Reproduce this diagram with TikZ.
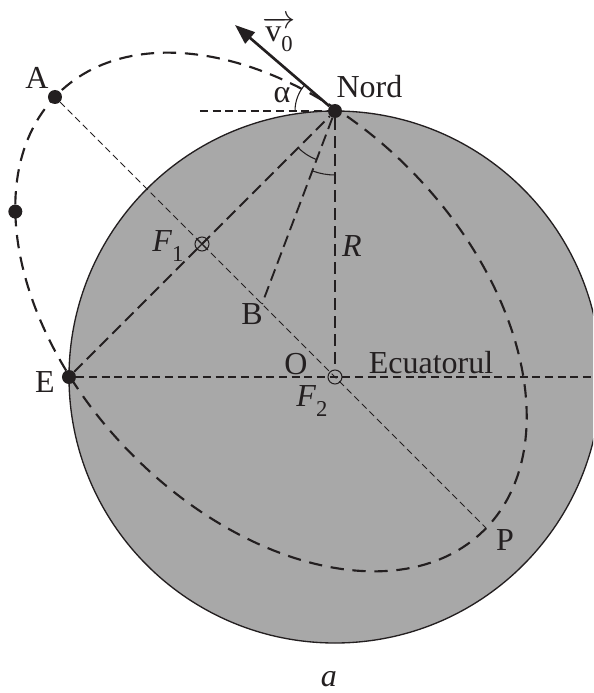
\documentclass[tikz,border=0pt]{standalone}
\usepackage{fontspec}
\setmainfont{Liberation Serif}
\usetikzlibrary{arrows.meta,positioning}
\definecolor{ink}{HTML}{231F20}
\definecolor{earth}{HTML}{A8A8A8}
\newcommand{\subidx}[1]{\raisebox{-7pt}{\fontsize{17}{20}\selectfont #1}}

\begin{document}
\begin{tikzpicture}[
  x=0.75pt, y=0.75pt,
  font=\fontsize{24}{28}\selectfont,
  dot/.style={circle, fill=ink, inner sep=0pt, minimum size=10.5pt},
  focus/.style={circle, draw=ink, line width=0.8pt, inner sep=0pt, minimum size=10.5pt},
  orbit/.style={draw=ink, line width=1.6pt, dash pattern=on 10pt off 6.5pt},
  guide/.style={draw=ink, line width=1.4pt, dash pattern=on 9pt off 4.5pt},
  flat/.style={draw=ink, line width=1.3pt, dash pattern=on 6pt off 3.5pt},
  apsis/.style={draw=ink, line width=0.7pt, dash pattern=on 5pt off 3pt},
  anglearc/.style={draw=ink, line width=0.8pt},
  arrow/.style={-{Triangle[length=15pt, width=11pt]}, line width=2pt, color=ink},
  lbl/.style={text=ink, inner sep=0pt}
]
\useasboundingbox (-335,-316) rectangle (258,377);
\clip (-335,-316) rectangle (258,377);
\coordinate (o) at (0,0);
\filldraw[fill=earth, draw=ink, line width=1pt] (o) circle[radius=266];
\begin{scope}[shift={(-64,65)}, rotate=134]
  \draw[orbit] (0,0) ellipse[x radius=305, y radius=199];
  \coordinate (cm) at (35:305 and 199);
\end{scope}
\coordinate (ca) at (-280,280);
\coordinate (p) at (151,-151);
\coordinate (b) at (-73,73);
\coordinate (ecu) at (270,0);
\coordinate (hz) at (-135,266);
\coordinate (v) at (-100,352);
\node[dot] (nord) at (0,266) {};
\node[dot] (e) at (-266,0) {};
\node[dot] (a) at (ca) {};
\node[dot] (m) at (cm) {};
\node[focus] (f1) at (-133,133) {};
\node[focus] (f2) at (o) {};
\draw[apsis] (a) -- (p);
\draw[guide] (e) -- (nord);
\draw[guide] (nord) -- (b);
\draw[guide] (nord) -- (f2);
\draw[flat] (e) -- (ecu);
\draw[flat] (hz) -- (nord);
\draw[ink, line width=0.8pt] (f1.north west) -- (f1.south east) (f1.north east) -- (f1.south west);
\draw[arrow] (nord) -- (v);
\draw[anglearc] ([shift={(180:40)}]nord.center) arc[start angle=180, end angle=140, radius=40];
\draw[anglearc] ([shift={(225:52)}]nord.center) arc[start angle=225, end angle=249, radius=52];
\draw[anglearc] ([shift={(250:64)}]nord.center) arc[start angle=250, end angle=270, radius=64];
\node[lbl] (la) at (-298,299) {A};
\node[lbl] (lnord) at (34.5,290) {Nord};
\node[lbl] (lalpha) at (-53,282) {α};
\node[lbl] (lv) at (-56,343) {$\overrightarrow{\mbox{v\subidx{0}}}$};
\node[lbl] (lf1) at (-167,131) {\textit{F}\subidx{1}};
\node[lbl] (lr) at (17,131) {\textit{R}};
\node[lbl] (lb) at (-83,63) {B};
\node[lbl] (lo) at (-39,13) {O};
\node[lbl] (lf2) at (-23,-24) {\textit{F}\subidx{2}};
\node[lbl] (lecu) at (96,14) {Ecuatorul};
\node[lbl] (le) at (-290,-5) {E};
\node[lbl] (lp) at (170,-163) {P};
\node[lbl] (lcap) at (-6,-302) {\textit{a}};
\end{tikzpicture}
\end{document}
